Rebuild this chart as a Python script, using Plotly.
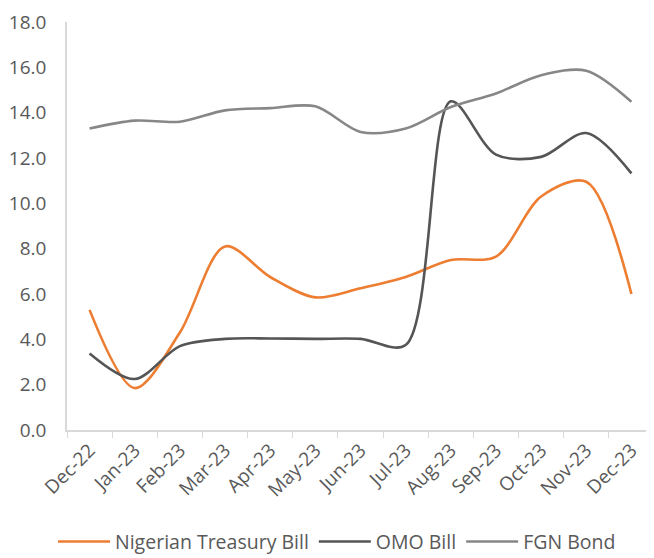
import plotly.graph_objects as go

months = ["Dec-22", "Jan-23", "Feb-23", "Mar-23", "Apr-23", "May-23", "Jun-23",
          "Jul-23", "Aug-23", "Sep-23", "Oct-23", "Nov-23", "Dec-23"]
treasury_bill = [5.3, 1.85, 4.3, 8.1, 6.75, 5.85, 6.25, 6.75, 7.5, 7.65, 10.3, 10.95, 6.0]
omo_bill = [3.38, 2.25, 3.7, 4.02, 4.04, 4.02, 4.02, 3.75, 14.5, 12.15, 12.05, 13.1, 11.32]
fgn_bond = [13.3, 13.65, 13.6, 14.1, 14.2, 14.28, 13.15, 13.3, 14.25, 14.85, 15.65, 15.85, 14.48]

series = [
    ("Nigerian Treasury Bill", treasury_bill, "#ED7D31"),
    ("OMO Bill", omo_bill, "#555555"),
    ("FGN Bond", fgn_bond, "#878787"),
]

fig = go.Figure()
for name, vals, color in series:
    fig.add_trace(go.Scatter(
        x=months, y=vals, name=name, mode="lines",
        line=dict(color=color, width=2.6, shape="spline", smoothing=0.9),
    ))

font_family = "'Open Sans', Lato, sans-serif"
# the page body adds an 8px offset; margins compensate for it
fig.update_layout(
    width=646, height=558,
    margin=dict(l=59, r=0, t=14, b=136),
    plot_bgcolor="white", paper_bgcolor="white",
    font=dict(family=font_family, color="#595959", size=19),
    showlegend=True,
    legend=dict(orientation="h", x=0.46, xanchor="center", y=-0.274, yanchor="middle",
                font=dict(size=19.5, color="#595959"), itemwidth=52,
                traceorder="normal"),
)
fig.update_xaxes(
    type="category", range=[-0.5, 12.5], automargin=False,
    showline=True, linecolor="#D9D9D9", linewidth=1.5,
    ticks="outside", tickson="boundaries", ticklen=6, tickcolor="#D9D9D9",
    tickangle=-45, tickfont=dict(size=19, color="#595959"),
    showgrid=False, zeroline=False,
)
fig.update_yaxes(
    range=[0, 18], dtick=2, tickformat=".1f", automargin=False,
    showline=True, linecolor="#D9D9D9", linewidth=1.5,
    ticks="", ticklabelstandoff=15,
    tickfont=dict(size=19, color="#595959"),
    showgrid=False, zeroline=False,
)

fig.write_html("out.html")
